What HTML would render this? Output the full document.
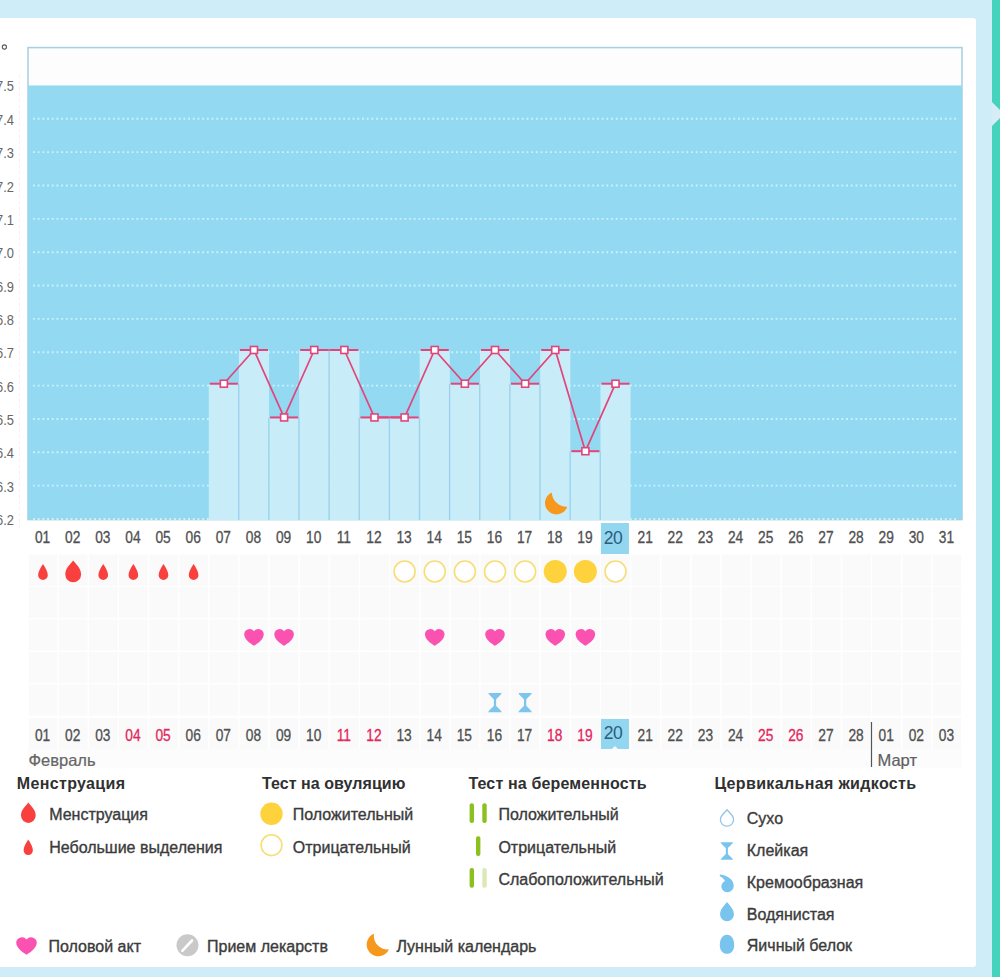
<!DOCTYPE html>
<html><head><meta charset="utf-8">
<style>
html,body{margin:0;padding:0;width:1000px;height:980px;overflow:hidden;background:#fff;}
#bg{position:absolute;left:0;top:0;width:1000px;height:977px;background:#cfedf9;}
#card{position:absolute;left:-10px;top:18px;width:986px;height:949px;background:#fff;border-radius:3px;}
#teal{position:absolute;left:992px;top:0;width:8px;height:977px;background:#45d3be;}
#notch{position:absolute;left:992px;top:101.5px;width:0;height:0;border-top:12px solid transparent;border-bottom:12px solid transparent;border-left:12px solid #d8ecf8;}
svg{position:absolute;left:0;top:0;}
text{font-family:"Liberation Sans", sans-serif;}
</style></head>
<body>
<div id="bg"></div><div id="card"></div><div id="teal"></div><div id="notch"></div>
<svg width="1000" height="980" viewBox="0 0 1000 980">
<rect x="28.0" y="47.6" width="934.0" height="472.0" fill="#fdfdfd" stroke="#a6cfe0" stroke-width="1.5"/>
<line x1="19.5" y1="75" x2="19.5" y2="530" stroke="#fcedf1" stroke-width="1" stroke-dasharray="3 3"/>
<rect x="28.0" y="85.45" width="934.0" height="433.55" fill="#93d9f2"/>
<line x1="33.0" y1="118.80" x2="957.0" y2="118.80" stroke="#c6f3fc" stroke-width="1.9" stroke-dasharray="1.9 2.8"/>
<line x1="33.0" y1="152.15" x2="957.0" y2="152.15" stroke="#c6f3fc" stroke-width="1.9" stroke-dasharray="1.9 2.8"/>
<line x1="33.0" y1="185.50" x2="957.0" y2="185.50" stroke="#c6f3fc" stroke-width="1.9" stroke-dasharray="1.9 2.8"/>
<line x1="33.0" y1="218.85" x2="957.0" y2="218.85" stroke="#c6f3fc" stroke-width="1.9" stroke-dasharray="1.9 2.8"/>
<line x1="33.0" y1="252.20" x2="957.0" y2="252.20" stroke="#c6f3fc" stroke-width="1.9" stroke-dasharray="1.9 2.8"/>
<line x1="33.0" y1="285.55" x2="957.0" y2="285.55" stroke="#c6f3fc" stroke-width="1.9" stroke-dasharray="1.9 2.8"/>
<line x1="33.0" y1="318.90" x2="957.0" y2="318.90" stroke="#c6f3fc" stroke-width="1.9" stroke-dasharray="1.9 2.8"/>
<line x1="33.0" y1="352.25" x2="957.0" y2="352.25" stroke="#c6f3fc" stroke-width="1.9" stroke-dasharray="1.9 2.8"/>
<line x1="33.0" y1="385.60" x2="957.0" y2="385.60" stroke="#c6f3fc" stroke-width="1.9" stroke-dasharray="1.9 2.8"/>
<line x1="33.0" y1="418.95" x2="957.0" y2="418.95" stroke="#c6f3fc" stroke-width="1.9" stroke-dasharray="1.9 2.8"/>
<line x1="33.0" y1="452.30" x2="957.0" y2="452.30" stroke="#c6f3fc" stroke-width="1.9" stroke-dasharray="1.9 2.8"/>
<line x1="33.0" y1="485.65" x2="957.0" y2="485.65" stroke="#c6f3fc" stroke-width="1.9" stroke-dasharray="1.9 2.8"/>
<line x1="33.0" y1="519.00" x2="957.0" y2="519.00" stroke="#c6f3fc" stroke-width="1.9" stroke-dasharray="1.9 2.8"/>
<rect x="208.77" y="383.72" width="30.13" height="136.28" fill="#c9ecf9"/>
<rect x="238.90" y="349.98" width="30.13" height="170.02" fill="#c9ecf9"/>
<rect x="269.03" y="417.46" width="30.13" height="102.54" fill="#c9ecf9"/>
<rect x="299.16" y="349.98" width="30.13" height="170.02" fill="#c9ecf9"/>
<rect x="329.29" y="349.98" width="30.13" height="170.02" fill="#c9ecf9"/>
<rect x="359.42" y="417.46" width="30.13" height="102.54" fill="#c9ecf9"/>
<rect x="389.55" y="417.46" width="30.13" height="102.54" fill="#c9ecf9"/>
<rect x="419.68" y="349.98" width="30.13" height="170.02" fill="#c9ecf9"/>
<rect x="449.81" y="383.72" width="30.13" height="136.28" fill="#c9ecf9"/>
<rect x="479.94" y="349.98" width="30.13" height="170.02" fill="#c9ecf9"/>
<rect x="510.06" y="383.72" width="30.13" height="136.28" fill="#c9ecf9"/>
<rect x="540.19" y="349.98" width="30.13" height="170.02" fill="#c9ecf9"/>
<rect x="570.32" y="451.20" width="30.13" height="68.80" fill="#c9ecf9"/>
<rect x="600.45" y="383.72" width="30.13" height="136.28" fill="#c9ecf9"/>
<line x1="238.70" y1="383.72" x2="238.70" y2="520.0" stroke="#9dd3ea" stroke-width="1.4"/>
<line x1="268.83" y1="417.46" x2="268.83" y2="520.0" stroke="#9dd3ea" stroke-width="1.4"/>
<line x1="298.96" y1="417.46" x2="298.96" y2="520.0" stroke="#9dd3ea" stroke-width="1.4"/>
<line x1="329.09" y1="349.98" x2="329.09" y2="520.0" stroke="#9dd3ea" stroke-width="1.4"/>
<line x1="359.22" y1="417.46" x2="359.22" y2="520.0" stroke="#9dd3ea" stroke-width="1.4"/>
<line x1="389.35" y1="417.46" x2="389.35" y2="520.0" stroke="#9dd3ea" stroke-width="1.4"/>
<line x1="419.48" y1="417.46" x2="419.48" y2="520.0" stroke="#9dd3ea" stroke-width="1.4"/>
<line x1="449.61" y1="383.72" x2="449.61" y2="520.0" stroke="#9dd3ea" stroke-width="1.4"/>
<line x1="479.74" y1="383.72" x2="479.74" y2="520.0" stroke="#9dd3ea" stroke-width="1.4"/>
<line x1="509.86" y1="383.72" x2="509.86" y2="520.0" stroke="#9dd3ea" stroke-width="1.4"/>
<line x1="539.99" y1="383.72" x2="539.99" y2="520.0" stroke="#9dd3ea" stroke-width="1.4"/>
<line x1="570.12" y1="451.20" x2="570.12" y2="520.0" stroke="#9dd3ea" stroke-width="1.4"/>
<line x1="600.25" y1="451.20" x2="600.25" y2="520.0" stroke="#9dd3ea" stroke-width="1.4"/>
<line x1="209.77" y1="383.72" x2="237.90" y2="383.72" stroke="#e2457a" stroke-width="2"/>
<line x1="239.90" y1="349.98" x2="268.03" y2="349.98" stroke="#e2457a" stroke-width="2"/>
<line x1="270.03" y1="417.46" x2="298.16" y2="417.46" stroke="#e2457a" stroke-width="2"/>
<line x1="300.16" y1="349.98" x2="328.29" y2="349.98" stroke="#e2457a" stroke-width="2"/>
<line x1="330.29" y1="349.98" x2="358.42" y2="349.98" stroke="#e2457a" stroke-width="2"/>
<line x1="360.42" y1="417.46" x2="388.55" y2="417.46" stroke="#e2457a" stroke-width="2"/>
<line x1="390.55" y1="417.46" x2="418.68" y2="417.46" stroke="#e2457a" stroke-width="2"/>
<line x1="420.68" y1="349.98" x2="448.81" y2="349.98" stroke="#e2457a" stroke-width="2"/>
<line x1="450.81" y1="383.72" x2="478.94" y2="383.72" stroke="#e2457a" stroke-width="2"/>
<line x1="480.94" y1="349.98" x2="509.06" y2="349.98" stroke="#e2457a" stroke-width="2"/>
<line x1="511.06" y1="383.72" x2="539.19" y2="383.72" stroke="#e2457a" stroke-width="2"/>
<line x1="541.19" y1="349.98" x2="569.32" y2="349.98" stroke="#e2457a" stroke-width="2"/>
<line x1="571.32" y1="451.20" x2="599.45" y2="451.20" stroke="#e2457a" stroke-width="2"/>
<line x1="601.45" y1="383.72" x2="629.58" y2="383.72" stroke="#e2457a" stroke-width="2"/>
<polyline points="223.84,383.72 253.97,349.98 284.10,417.46 314.23,349.98 344.35,349.98 374.48,417.46 404.61,417.46 434.74,349.98 464.87,383.72 495.00,349.98 525.13,383.72 555.26,349.98 585.39,451.20 615.52,383.72" fill="none" stroke="#e2457a" stroke-width="1.7"/>
<rect x="220.34" y="380.22" width="7" height="7" fill="#fff" stroke="#e2457a" stroke-width="1.6"/>
<rect x="250.47" y="346.48" width="7" height="7" fill="#fff" stroke="#e2457a" stroke-width="1.6"/>
<rect x="280.60" y="413.96" width="7" height="7" fill="#fff" stroke="#e2457a" stroke-width="1.6"/>
<rect x="310.73" y="346.48" width="7" height="7" fill="#fff" stroke="#e2457a" stroke-width="1.6"/>
<rect x="340.85" y="346.48" width="7" height="7" fill="#fff" stroke="#e2457a" stroke-width="1.6"/>
<rect x="370.98" y="413.96" width="7" height="7" fill="#fff" stroke="#e2457a" stroke-width="1.6"/>
<rect x="401.11" y="413.96" width="7" height="7" fill="#fff" stroke="#e2457a" stroke-width="1.6"/>
<rect x="431.24" y="346.48" width="7" height="7" fill="#fff" stroke="#e2457a" stroke-width="1.6"/>
<rect x="461.37" y="380.22" width="7" height="7" fill="#fff" stroke="#e2457a" stroke-width="1.6"/>
<rect x="491.50" y="346.48" width="7" height="7" fill="#fff" stroke="#e2457a" stroke-width="1.6"/>
<rect x="521.63" y="380.22" width="7" height="7" fill="#fff" stroke="#e2457a" stroke-width="1.6"/>
<rect x="551.76" y="346.48" width="7" height="7" fill="#fff" stroke="#e2457a" stroke-width="1.6"/>
<rect x="581.89" y="447.70" width="7" height="7" fill="#fff" stroke="#e2457a" stroke-width="1.6"/>
<rect x="612.02" y="380.22" width="7" height="7" fill="#fff" stroke="#e2457a" stroke-width="1.6"/>
<path d="M551.76,492.42 A11.50,11.50 0 1 0 567.30,506.84 A15.05,15.05 0 0 1 551.76,492.42 Z" fill="#f5981c"/>
<rect x="28.70" y="554.5" width="28.73" height="31.5" fill="#fafafa"/>
<rect x="58.83" y="554.5" width="28.73" height="31.5" fill="#fafafa"/>
<rect x="88.96" y="554.5" width="28.73" height="31.5" fill="#fafafa"/>
<rect x="119.09" y="554.5" width="28.73" height="31.5" fill="#fafafa"/>
<rect x="149.22" y="554.5" width="28.73" height="31.5" fill="#fafafa"/>
<rect x="179.35" y="554.5" width="28.73" height="31.5" fill="#fafafa"/>
<rect x="209.47" y="554.5" width="28.73" height="31.5" fill="#fafafa"/>
<rect x="239.60" y="554.5" width="28.73" height="31.5" fill="#fafafa"/>
<rect x="269.73" y="554.5" width="28.73" height="31.5" fill="#fafafa"/>
<rect x="299.86" y="554.5" width="28.73" height="31.5" fill="#fafafa"/>
<rect x="329.99" y="554.5" width="28.73" height="31.5" fill="#fafafa"/>
<rect x="360.12" y="554.5" width="28.73" height="31.5" fill="#fafafa"/>
<rect x="390.25" y="554.5" width="28.73" height="31.5" fill="#fafafa"/>
<rect x="420.38" y="554.5" width="28.73" height="31.5" fill="#fafafa"/>
<rect x="450.51" y="554.5" width="28.73" height="31.5" fill="#fafafa"/>
<rect x="480.64" y="554.5" width="28.73" height="31.5" fill="#fafafa"/>
<rect x="510.76" y="554.5" width="28.73" height="31.5" fill="#fafafa"/>
<rect x="540.89" y="554.5" width="28.73" height="31.5" fill="#fafafa"/>
<rect x="571.02" y="554.5" width="28.73" height="31.5" fill="#fafafa"/>
<rect x="601.15" y="554.5" width="28.73" height="31.5" fill="#fafafa"/>
<rect x="631.28" y="554.5" width="28.73" height="31.5" fill="#fafafa"/>
<rect x="661.41" y="554.5" width="28.73" height="31.5" fill="#fafafa"/>
<rect x="691.54" y="554.5" width="28.73" height="31.5" fill="#fafafa"/>
<rect x="721.67" y="554.5" width="28.73" height="31.5" fill="#fafafa"/>
<rect x="751.80" y="554.5" width="28.73" height="31.5" fill="#fafafa"/>
<rect x="781.93" y="554.5" width="28.73" height="31.5" fill="#fafafa"/>
<rect x="812.05" y="554.5" width="28.73" height="31.5" fill="#fafafa"/>
<rect x="842.18" y="554.5" width="28.73" height="31.5" fill="#fafafa"/>
<rect x="872.31" y="554.5" width="28.73" height="31.5" fill="#fafafa"/>
<rect x="902.44" y="554.5" width="28.73" height="31.5" fill="#fafafa"/>
<rect x="932.57" y="554.5" width="28.73" height="31.5" fill="#fafafa"/>
<rect x="28.70" y="587.0" width="28.73" height="31.0" fill="#fafafa"/>
<rect x="58.83" y="587.0" width="28.73" height="31.0" fill="#fafafa"/>
<rect x="88.96" y="587.0" width="28.73" height="31.0" fill="#fafafa"/>
<rect x="119.09" y="587.0" width="28.73" height="31.0" fill="#fafafa"/>
<rect x="149.22" y="587.0" width="28.73" height="31.0" fill="#fafafa"/>
<rect x="179.35" y="587.0" width="28.73" height="31.0" fill="#fafafa"/>
<rect x="209.47" y="587.0" width="28.73" height="31.0" fill="#fafafa"/>
<rect x="239.60" y="587.0" width="28.73" height="31.0" fill="#fafafa"/>
<rect x="269.73" y="587.0" width="28.73" height="31.0" fill="#fafafa"/>
<rect x="299.86" y="587.0" width="28.73" height="31.0" fill="#fafafa"/>
<rect x="329.99" y="587.0" width="28.73" height="31.0" fill="#fafafa"/>
<rect x="360.12" y="587.0" width="28.73" height="31.0" fill="#fafafa"/>
<rect x="390.25" y="587.0" width="28.73" height="31.0" fill="#fafafa"/>
<rect x="420.38" y="587.0" width="28.73" height="31.0" fill="#fafafa"/>
<rect x="450.51" y="587.0" width="28.73" height="31.0" fill="#fafafa"/>
<rect x="480.64" y="587.0" width="28.73" height="31.0" fill="#fafafa"/>
<rect x="510.76" y="587.0" width="28.73" height="31.0" fill="#fafafa"/>
<rect x="540.89" y="587.0" width="28.73" height="31.0" fill="#fafafa"/>
<rect x="571.02" y="587.0" width="28.73" height="31.0" fill="#fafafa"/>
<rect x="601.15" y="587.0" width="28.73" height="31.0" fill="#fafafa"/>
<rect x="631.28" y="587.0" width="28.73" height="31.0" fill="#fafafa"/>
<rect x="661.41" y="587.0" width="28.73" height="31.0" fill="#fafafa"/>
<rect x="691.54" y="587.0" width="28.73" height="31.0" fill="#fafafa"/>
<rect x="721.67" y="587.0" width="28.73" height="31.0" fill="#fafafa"/>
<rect x="751.80" y="587.0" width="28.73" height="31.0" fill="#fafafa"/>
<rect x="781.93" y="587.0" width="28.73" height="31.0" fill="#fafafa"/>
<rect x="812.05" y="587.0" width="28.73" height="31.0" fill="#fafafa"/>
<rect x="842.18" y="587.0" width="28.73" height="31.0" fill="#fafafa"/>
<rect x="872.31" y="587.0" width="28.73" height="31.0" fill="#fafafa"/>
<rect x="902.44" y="587.0" width="28.73" height="31.0" fill="#fafafa"/>
<rect x="932.57" y="587.0" width="28.73" height="31.0" fill="#fafafa"/>
<rect x="28.70" y="619.5" width="28.73" height="31" fill="#fafafa"/>
<rect x="58.83" y="619.5" width="28.73" height="31" fill="#fafafa"/>
<rect x="88.96" y="619.5" width="28.73" height="31" fill="#fafafa"/>
<rect x="119.09" y="619.5" width="28.73" height="31" fill="#fafafa"/>
<rect x="149.22" y="619.5" width="28.73" height="31" fill="#fafafa"/>
<rect x="179.35" y="619.5" width="28.73" height="31" fill="#fafafa"/>
<rect x="209.47" y="619.5" width="28.73" height="31" fill="#fafafa"/>
<rect x="239.60" y="619.5" width="28.73" height="31" fill="#fafafa"/>
<rect x="269.73" y="619.5" width="28.73" height="31" fill="#fafafa"/>
<rect x="299.86" y="619.5" width="28.73" height="31" fill="#fafafa"/>
<rect x="329.99" y="619.5" width="28.73" height="31" fill="#fafafa"/>
<rect x="360.12" y="619.5" width="28.73" height="31" fill="#fafafa"/>
<rect x="390.25" y="619.5" width="28.73" height="31" fill="#fafafa"/>
<rect x="420.38" y="619.5" width="28.73" height="31" fill="#fafafa"/>
<rect x="450.51" y="619.5" width="28.73" height="31" fill="#fafafa"/>
<rect x="480.64" y="619.5" width="28.73" height="31" fill="#fafafa"/>
<rect x="510.76" y="619.5" width="28.73" height="31" fill="#fafafa"/>
<rect x="540.89" y="619.5" width="28.73" height="31" fill="#fafafa"/>
<rect x="571.02" y="619.5" width="28.73" height="31" fill="#fafafa"/>
<rect x="601.15" y="619.5" width="28.73" height="31" fill="#fafafa"/>
<rect x="631.28" y="619.5" width="28.73" height="31" fill="#fafafa"/>
<rect x="661.41" y="619.5" width="28.73" height="31" fill="#fafafa"/>
<rect x="691.54" y="619.5" width="28.73" height="31" fill="#fafafa"/>
<rect x="721.67" y="619.5" width="28.73" height="31" fill="#fafafa"/>
<rect x="751.80" y="619.5" width="28.73" height="31" fill="#fafafa"/>
<rect x="781.93" y="619.5" width="28.73" height="31" fill="#fafafa"/>
<rect x="812.05" y="619.5" width="28.73" height="31" fill="#fafafa"/>
<rect x="842.18" y="619.5" width="28.73" height="31" fill="#fafafa"/>
<rect x="872.31" y="619.5" width="28.73" height="31" fill="#fafafa"/>
<rect x="902.44" y="619.5" width="28.73" height="31" fill="#fafafa"/>
<rect x="932.57" y="619.5" width="28.73" height="31" fill="#fafafa"/>
<rect x="28.70" y="652.0" width="28.73" height="31.0" fill="#fafafa"/>
<rect x="58.83" y="652.0" width="28.73" height="31.0" fill="#fafafa"/>
<rect x="88.96" y="652.0" width="28.73" height="31.0" fill="#fafafa"/>
<rect x="119.09" y="652.0" width="28.73" height="31.0" fill="#fafafa"/>
<rect x="149.22" y="652.0" width="28.73" height="31.0" fill="#fafafa"/>
<rect x="179.35" y="652.0" width="28.73" height="31.0" fill="#fafafa"/>
<rect x="209.47" y="652.0" width="28.73" height="31.0" fill="#fafafa"/>
<rect x="239.60" y="652.0" width="28.73" height="31.0" fill="#fafafa"/>
<rect x="269.73" y="652.0" width="28.73" height="31.0" fill="#fafafa"/>
<rect x="299.86" y="652.0" width="28.73" height="31.0" fill="#fafafa"/>
<rect x="329.99" y="652.0" width="28.73" height="31.0" fill="#fafafa"/>
<rect x="360.12" y="652.0" width="28.73" height="31.0" fill="#fafafa"/>
<rect x="390.25" y="652.0" width="28.73" height="31.0" fill="#fafafa"/>
<rect x="420.38" y="652.0" width="28.73" height="31.0" fill="#fafafa"/>
<rect x="450.51" y="652.0" width="28.73" height="31.0" fill="#fafafa"/>
<rect x="480.64" y="652.0" width="28.73" height="31.0" fill="#fafafa"/>
<rect x="510.76" y="652.0" width="28.73" height="31.0" fill="#fafafa"/>
<rect x="540.89" y="652.0" width="28.73" height="31.0" fill="#fafafa"/>
<rect x="571.02" y="652.0" width="28.73" height="31.0" fill="#fafafa"/>
<rect x="601.15" y="652.0" width="28.73" height="31.0" fill="#fafafa"/>
<rect x="631.28" y="652.0" width="28.73" height="31.0" fill="#fafafa"/>
<rect x="661.41" y="652.0" width="28.73" height="31.0" fill="#fafafa"/>
<rect x="691.54" y="652.0" width="28.73" height="31.0" fill="#fafafa"/>
<rect x="721.67" y="652.0" width="28.73" height="31.0" fill="#fafafa"/>
<rect x="751.80" y="652.0" width="28.73" height="31.0" fill="#fafafa"/>
<rect x="781.93" y="652.0" width="28.73" height="31.0" fill="#fafafa"/>
<rect x="812.05" y="652.0" width="28.73" height="31.0" fill="#fafafa"/>
<rect x="842.18" y="652.0" width="28.73" height="31.0" fill="#fafafa"/>
<rect x="872.31" y="652.0" width="28.73" height="31.0" fill="#fafafa"/>
<rect x="902.44" y="652.0" width="28.73" height="31.0" fill="#fafafa"/>
<rect x="932.57" y="652.0" width="28.73" height="31.0" fill="#fafafa"/>
<rect x="28.70" y="684.5" width="28.73" height="31" fill="#fafafa"/>
<rect x="58.83" y="684.5" width="28.73" height="31" fill="#fafafa"/>
<rect x="88.96" y="684.5" width="28.73" height="31" fill="#fafafa"/>
<rect x="119.09" y="684.5" width="28.73" height="31" fill="#fafafa"/>
<rect x="149.22" y="684.5" width="28.73" height="31" fill="#fafafa"/>
<rect x="179.35" y="684.5" width="28.73" height="31" fill="#fafafa"/>
<rect x="209.47" y="684.5" width="28.73" height="31" fill="#fafafa"/>
<rect x="239.60" y="684.5" width="28.73" height="31" fill="#fafafa"/>
<rect x="269.73" y="684.5" width="28.73" height="31" fill="#fafafa"/>
<rect x="299.86" y="684.5" width="28.73" height="31" fill="#fafafa"/>
<rect x="329.99" y="684.5" width="28.73" height="31" fill="#fafafa"/>
<rect x="360.12" y="684.5" width="28.73" height="31" fill="#fafafa"/>
<rect x="390.25" y="684.5" width="28.73" height="31" fill="#fafafa"/>
<rect x="420.38" y="684.5" width="28.73" height="31" fill="#fafafa"/>
<rect x="450.51" y="684.5" width="28.73" height="31" fill="#fafafa"/>
<rect x="480.64" y="684.5" width="28.73" height="31" fill="#fafafa"/>
<rect x="510.76" y="684.5" width="28.73" height="31" fill="#fafafa"/>
<rect x="540.89" y="684.5" width="28.73" height="31" fill="#fafafa"/>
<rect x="571.02" y="684.5" width="28.73" height="31" fill="#fafafa"/>
<rect x="601.15" y="684.5" width="28.73" height="31" fill="#fafafa"/>
<rect x="631.28" y="684.5" width="28.73" height="31" fill="#fafafa"/>
<rect x="661.41" y="684.5" width="28.73" height="31" fill="#fafafa"/>
<rect x="691.54" y="684.5" width="28.73" height="31" fill="#fafafa"/>
<rect x="721.67" y="684.5" width="28.73" height="31" fill="#fafafa"/>
<rect x="751.80" y="684.5" width="28.73" height="31" fill="#fafafa"/>
<rect x="781.93" y="684.5" width="28.73" height="31" fill="#fafafa"/>
<rect x="812.05" y="684.5" width="28.73" height="31" fill="#fafafa"/>
<rect x="842.18" y="684.5" width="28.73" height="31" fill="#fafafa"/>
<rect x="872.31" y="684.5" width="28.73" height="31" fill="#fafafa"/>
<rect x="902.44" y="684.5" width="28.73" height="31" fill="#fafafa"/>
<rect x="932.57" y="684.5" width="28.73" height="31" fill="#fafafa"/>
<rect x="28.70" y="718.0" width="28.73" height="31.0" fill="#fafafa"/>
<rect x="58.83" y="718.0" width="28.73" height="31.0" fill="#fafafa"/>
<rect x="88.96" y="718.0" width="28.73" height="31.0" fill="#fafafa"/>
<rect x="119.09" y="718.0" width="28.73" height="31.0" fill="#fafafa"/>
<rect x="149.22" y="718.0" width="28.73" height="31.0" fill="#fafafa"/>
<rect x="179.35" y="718.0" width="28.73" height="31.0" fill="#fafafa"/>
<rect x="209.47" y="718.0" width="28.73" height="31.0" fill="#fafafa"/>
<rect x="239.60" y="718.0" width="28.73" height="31.0" fill="#fafafa"/>
<rect x="269.73" y="718.0" width="28.73" height="31.0" fill="#fafafa"/>
<rect x="299.86" y="718.0" width="28.73" height="31.0" fill="#fafafa"/>
<rect x="329.99" y="718.0" width="28.73" height="31.0" fill="#fafafa"/>
<rect x="360.12" y="718.0" width="28.73" height="31.0" fill="#fafafa"/>
<rect x="390.25" y="718.0" width="28.73" height="31.0" fill="#fafafa"/>
<rect x="420.38" y="718.0" width="28.73" height="31.0" fill="#fafafa"/>
<rect x="450.51" y="718.0" width="28.73" height="31.0" fill="#fafafa"/>
<rect x="480.64" y="718.0" width="28.73" height="31.0" fill="#fafafa"/>
<rect x="510.76" y="718.0" width="28.73" height="31.0" fill="#fafafa"/>
<rect x="540.89" y="718.0" width="28.73" height="31.0" fill="#fafafa"/>
<rect x="571.02" y="718.0" width="28.73" height="31.0" fill="#fafafa"/>
<rect x="601.15" y="718.0" width="28.73" height="31.0" fill="#fafafa"/>
<rect x="631.28" y="718.0" width="28.73" height="31.0" fill="#fafafa"/>
<rect x="661.41" y="718.0" width="28.73" height="31.0" fill="#fafafa"/>
<rect x="691.54" y="718.0" width="28.73" height="31.0" fill="#fafafa"/>
<rect x="721.67" y="718.0" width="28.73" height="31.0" fill="#fafafa"/>
<rect x="751.80" y="718.0" width="28.73" height="31.0" fill="#fafafa"/>
<rect x="781.93" y="718.0" width="28.73" height="31.0" fill="#fafafa"/>
<rect x="812.05" y="718.0" width="28.73" height="31.0" fill="#fafafa"/>
<rect x="842.18" y="718.0" width="28.73" height="31.0" fill="#fafafa"/>
<rect x="872.31" y="718.0" width="28.73" height="31.0" fill="#fafafa"/>
<rect x="902.44" y="718.0" width="28.73" height="31.0" fill="#fafafa"/>
<rect x="932.57" y="718.0" width="28.73" height="31.0" fill="#fafafa"/>
<rect x="28.0" y="749" width="934.0" height="19" fill="#fcfcfc"/>
<rect x="600.95" y="523" width="28" height="31" fill="#93d6f0"/>
<path d="M600.95,719 h28 v30 h-11 l-3,-3 l-3,3 h-11 z" fill="#93d6f0"/>
<path d="M42.96,564.00 C45.39,567.90 47.81,571.51 47.81,575.15 A4.85,4.85 0 0 1 38.11,575.15 C38.11,571.51 40.54,567.90 42.96,564.00 Z" fill="#f9403f"/>
<path d="M103.22,564.00 C105.65,567.90 108.07,571.51 108.07,575.15 A4.85,4.85 0 0 1 98.37,575.15 C98.37,571.51 100.80,567.90 103.22,564.00 Z" fill="#f9403f"/>
<path d="M133.35,564.00 C135.78,567.90 138.20,571.51 138.20,575.15 A4.85,4.85 0 0 1 128.50,575.15 C128.50,571.51 130.93,567.90 133.35,564.00 Z" fill="#f9403f"/>
<path d="M163.48,564.00 C165.91,567.90 168.33,571.51 168.33,575.15 A4.85,4.85 0 0 1 158.63,575.15 C158.63,571.51 161.06,567.90 163.48,564.00 Z" fill="#f9403f"/>
<path d="M193.61,564.00 C196.03,567.90 198.46,571.51 198.46,575.15 A4.85,4.85 0 0 1 188.76,575.15 C188.76,571.51 191.18,567.90 193.61,564.00 Z" fill="#f9403f"/>
<path d="M73.19,560.40 C77.14,565.30 81.09,568.48 81.09,574.40 A7.90,7.90 0 0 1 65.29,574.40 C65.29,568.48 69.24,565.30 73.19,560.40 Z" fill="#f9403f"/>
<circle cx="404.61" cy="571.5" r="10.5" fill="#fff" stroke="#f7de78" stroke-width="1.6"/>
<circle cx="434.74" cy="571.5" r="10.5" fill="#fff" stroke="#f7de78" stroke-width="1.6"/>
<circle cx="464.87" cy="571.5" r="10.5" fill="#fff" stroke="#f7de78" stroke-width="1.6"/>
<circle cx="495.00" cy="571.5" r="10.5" fill="#fff" stroke="#f7de78" stroke-width="1.6"/>
<circle cx="525.13" cy="571.5" r="10.5" fill="#fff" stroke="#f7de78" stroke-width="1.6"/>
<circle cx="615.52" cy="571.5" r="10.5" fill="#fff" stroke="#f7de78" stroke-width="1.6"/>
<circle cx="555.26" cy="571.5" r="11.5" fill="#fdd23c"/>
<circle cx="585.39" cy="571.5" r="11.5" fill="#fdd23c"/>
<path transform="translate(243.97,628.00) scale(1.000,1.000)" d="M10,17.7 C6.8,15.6 0.2,11.6 0.2,5.9 A5.5,5.5 0 0 1 10,3.3 A5.5,5.5 0 0 1 19.8,5.9 C19.8,11.6 13.2,15.6 10,17.7 Z" fill="#fb52b2"/>
<path transform="translate(274.10,628.00) scale(1.000,1.000)" d="M10,17.7 C6.8,15.6 0.2,11.6 0.2,5.9 A5.5,5.5 0 0 1 10,3.3 A5.5,5.5 0 0 1 19.8,5.9 C19.8,11.6 13.2,15.6 10,17.7 Z" fill="#fb52b2"/>
<path transform="translate(424.74,628.00) scale(1.000,1.000)" d="M10,17.7 C6.8,15.6 0.2,11.6 0.2,5.9 A5.5,5.5 0 0 1 10,3.3 A5.5,5.5 0 0 1 19.8,5.9 C19.8,11.6 13.2,15.6 10,17.7 Z" fill="#fb52b2"/>
<path transform="translate(485.00,628.00) scale(1.000,1.000)" d="M10,17.7 C6.8,15.6 0.2,11.6 0.2,5.9 A5.5,5.5 0 0 1 10,3.3 A5.5,5.5 0 0 1 19.8,5.9 C19.8,11.6 13.2,15.6 10,17.7 Z" fill="#fb52b2"/>
<path transform="translate(545.26,628.00) scale(1.000,1.000)" d="M10,17.7 C6.8,15.6 0.2,11.6 0.2,5.9 A5.5,5.5 0 0 1 10,3.3 A5.5,5.5 0 0 1 19.8,5.9 C19.8,11.6 13.2,15.6 10,17.7 Z" fill="#fb52b2"/>
<path transform="translate(575.39,628.00) scale(1.000,1.000)" d="M10,17.7 C6.8,15.6 0.2,11.6 0.2,5.9 A5.5,5.5 0 0 1 10,3.3 A5.5,5.5 0 0 1 19.8,5.9 C19.8,11.6 13.2,15.6 10,17.7 Z" fill="#fb52b2"/>
<path transform="translate(488.30,693.00) scale(1.072,1.097)" d="M0,0 H12.5 C12.4,1.4 9.2,3.6 7.3,5.9 V11.7 C9.2,14 12.4,16.2 12.5,17.6 H0 C0.1,16.2 3.3,14 5.2,11.7 V5.9 C3.3,3.6 0.1,1.4 0,0 Z" fill="#7ec5ee"/>
<path transform="translate(518.43,693.00) scale(1.072,1.097)" d="M0,0 H12.5 C12.4,1.4 9.2,3.6 7.3,5.9 V11.7 C9.2,14 12.4,16.2 12.5,17.6 H0 C0.1,16.2 3.3,14 5.2,11.7 V5.9 C3.3,3.6 0.1,1.4 0,0 Z" fill="#7ec5ee"/>
<line x1="871.5" y1="722" x2="871.5" y2="767" stroke="#555" stroke-width="1.2"/>
<path d="M28.35,802.50 C32.02,807.07 35.70,810.04 35.70,815.55 A7.35,7.35 0 0 1 21.00,815.55 C21.00,810.04 24.68,807.07 28.35,802.50 Z" fill="#f9403f"/>
<path d="M28.25,839.60 C30.57,843.36 32.90,846.86 32.90,850.35 A4.65,4.65 0 0 1 23.60,850.35 C23.60,846.86 25.93,843.36 28.25,839.60 Z" fill="#f9403f"/>
<circle cx="271.5" cy="813.8" r="11.2" fill="#fdd23c"/>
<circle cx="271.5" cy="845.2" r="10.4" fill="#fff" stroke="#f7de78" stroke-width="1.6"/>
<rect x="469.6" y="803.2" width="4.4" height="19.7" rx="2" fill="#8bc11e"/>
<rect x="482.3" y="803.2" width="4.4" height="19.7" rx="2" fill="#8bc11e"/>
<rect x="476" y="836.3" width="4.4" height="19.7" rx="2" fill="#8bc11e"/>
<rect x="469.6" y="868" width="4.4" height="19.7" rx="2" fill="#8bc11e"/>
<rect x="482.3" y="868" width="4.4" height="19.7" rx="2" fill="#dce8b6"/>
<path d="M727,809.7 L731.92,815.2 A6.6,6.6 0 1 1 722.08,815.2 Z" fill="#fff" stroke="#90c4e8" stroke-width="1.3" stroke-linejoin="round"/>
<path transform="translate(720.60,842.20) scale(1.000,1.000)" d="M0,0 H12.5 C12.4,1.4 9.2,3.6 7.3,5.9 V11.7 C9.2,14 12.4,16.2 12.5,17.6 H0 C0.1,16.2 3.3,14 5.2,11.7 V5.9 C3.3,3.6 0.1,1.4 0,0 Z" fill="#79c3ef"/>
<path d="M719.8,874.6 C725,874.6 733.7,878.6 733.7,885.6 A6.2,6.2 0 0 1 721.3,886.5 C721.4,884 722.9,882 725,880.9 C723.6,878.6 721.9,877 719.8,876.3 Z" fill="#79c3ef"/>
<path d="M727.00,902.00 C730.45,906.34 733.90,909.23 733.90,914.40 A6.90,6.90 0 0 1 720.10,914.40 C720.10,909.23 723.55,906.34 727.00,902.00 Z" fill="#79c3ef"/>
<path d="M727,934.8 C731.5,934.8 734.2,939.5 734.2,945 C734.2,950.5 731.2,953.8 727,953.8 C722.8,953.8 719.8,950.5 719.8,945 C719.8,939.5 722.5,934.8 727,934.8 Z" fill="#79c3ef"/>
<path transform="translate(16.00,936.00) scale(1.050,1.056)" d="M10,17.7 C6.8,15.6 0.2,11.6 0.2,5.9 A5.5,5.5 0 0 1 10,3.3 A5.5,5.5 0 0 1 19.8,5.9 C19.8,11.6 13.2,15.6 10,17.7 Z" fill="#fb52b2"/>
<circle cx="187.5" cy="945.3" r="11" fill="#c9c9c9"/>
<line x1="182.3" y1="950.8" x2="192" y2="940.5" stroke="#fff" stroke-width="2.6" stroke-linecap="round"/>
<path d="M373.99,933.68 A11.72,11.72 0 1 0 389.05,949.35 A13.63,13.63 0 0 1 373.99,933.68 Z" fill="#f5981c"/>
<text transform="translate(14,91.45) scale(0.86,1)" font-size="15" fill="#666" text-anchor="end">37.5</text>
<text transform="translate(14,124.80) scale(0.86,1)" font-size="15" fill="#666" text-anchor="end">37.4</text>
<text transform="translate(14,158.15) scale(0.86,1)" font-size="15" fill="#666" text-anchor="end">37.3</text>
<text transform="translate(14,191.50) scale(0.86,1)" font-size="15" fill="#666" text-anchor="end">37.2</text>
<text transform="translate(14,224.85) scale(0.86,1)" font-size="15" fill="#666" text-anchor="end">37.1</text>
<text transform="translate(14,258.20) scale(0.86,1)" font-size="15" fill="#666" text-anchor="end">37.0</text>
<text transform="translate(14,291.55) scale(0.86,1)" font-size="15" fill="#666" text-anchor="end">36.9</text>
<text transform="translate(14,324.90) scale(0.86,1)" font-size="15" fill="#666" text-anchor="end">36.8</text>
<text transform="translate(14,358.25) scale(0.86,1)" font-size="15" fill="#666" text-anchor="end">36.7</text>
<text transform="translate(14,391.60) scale(0.86,1)" font-size="15" fill="#666" text-anchor="end">36.6</text>
<text transform="translate(14,424.95) scale(0.86,1)" font-size="15" fill="#666" text-anchor="end">36.5</text>
<text transform="translate(14,458.30) scale(0.86,1)" font-size="15" fill="#666" text-anchor="end">36.4</text>
<text transform="translate(14,491.65) scale(0.86,1)" font-size="15" fill="#666" text-anchor="end">36.3</text>
<text transform="translate(14,525.00) scale(0.86,1)" font-size="15" fill="#666" text-anchor="end">36.2</text>
<circle cx="4.4" cy="47" r="2.1" fill="none" stroke="#5a5a5a" stroke-width="1.1"/>
<text transform="translate(42.56,543.00) scale(0.86,1)" font-size="16" fill="#505050" font-weight="400" text-anchor="middle" letter-spacing="0" stroke="#505050" stroke-width="0.3">01</text>
<text transform="translate(72.69,543.00) scale(0.86,1)" font-size="16" fill="#505050" font-weight="400" text-anchor="middle" letter-spacing="0" stroke="#505050" stroke-width="0.3">02</text>
<text transform="translate(102.82,543.00) scale(0.86,1)" font-size="16" fill="#505050" font-weight="400" text-anchor="middle" letter-spacing="0" stroke="#505050" stroke-width="0.3">03</text>
<text transform="translate(132.95,543.00) scale(0.86,1)" font-size="16" fill="#505050" font-weight="400" text-anchor="middle" letter-spacing="0" stroke="#505050" stroke-width="0.3">04</text>
<text transform="translate(163.08,543.00) scale(0.86,1)" font-size="16" fill="#505050" font-weight="400" text-anchor="middle" letter-spacing="0" stroke="#505050" stroke-width="0.3">05</text>
<text transform="translate(193.21,543.00) scale(0.86,1)" font-size="16" fill="#505050" font-weight="400" text-anchor="middle" letter-spacing="0" stroke="#505050" stroke-width="0.3">06</text>
<text transform="translate(223.34,543.00) scale(0.86,1)" font-size="16" fill="#505050" font-weight="400" text-anchor="middle" letter-spacing="0" stroke="#505050" stroke-width="0.3">07</text>
<text transform="translate(253.47,543.00) scale(0.86,1)" font-size="16" fill="#505050" font-weight="400" text-anchor="middle" letter-spacing="0" stroke="#505050" stroke-width="0.3">08</text>
<text transform="translate(283.60,543.00) scale(0.86,1)" font-size="16" fill="#505050" font-weight="400" text-anchor="middle" letter-spacing="0" stroke="#505050" stroke-width="0.3">09</text>
<text transform="translate(313.73,543.00) scale(0.86,1)" font-size="16" fill="#505050" font-weight="400" text-anchor="middle" letter-spacing="0" stroke="#505050" stroke-width="0.3">10</text>
<text transform="translate(343.85,543.00) scale(0.86,1)" font-size="16" fill="#505050" font-weight="400" text-anchor="middle" letter-spacing="0" stroke="#505050" stroke-width="0.3">11</text>
<text transform="translate(373.98,543.00) scale(0.86,1)" font-size="16" fill="#505050" font-weight="400" text-anchor="middle" letter-spacing="0" stroke="#505050" stroke-width="0.3">12</text>
<text transform="translate(404.11,543.00) scale(0.86,1)" font-size="16" fill="#505050" font-weight="400" text-anchor="middle" letter-spacing="0" stroke="#505050" stroke-width="0.3">13</text>
<text transform="translate(434.24,543.00) scale(0.86,1)" font-size="16" fill="#505050" font-weight="400" text-anchor="middle" letter-spacing="0" stroke="#505050" stroke-width="0.3">14</text>
<text transform="translate(464.37,543.00) scale(0.86,1)" font-size="16" fill="#505050" font-weight="400" text-anchor="middle" letter-spacing="0" stroke="#505050" stroke-width="0.3">15</text>
<text transform="translate(494.50,543.00) scale(0.86,1)" font-size="16" fill="#505050" font-weight="400" text-anchor="middle" letter-spacing="0" stroke="#505050" stroke-width="0.3">16</text>
<text transform="translate(524.63,543.00) scale(0.86,1)" font-size="16" fill="#505050" font-weight="400" text-anchor="middle" letter-spacing="0" stroke="#505050" stroke-width="0.3">17</text>
<text transform="translate(554.76,543.00) scale(0.86,1)" font-size="16" fill="#505050" font-weight="400" text-anchor="middle" letter-spacing="0" stroke="#505050" stroke-width="0.3">18</text>
<text transform="translate(584.89,543.00) scale(0.86,1)" font-size="16" fill="#505050" font-weight="400" text-anchor="middle" letter-spacing="0" stroke="#505050" stroke-width="0.3">19</text>
<text x="612.92" y="544.30" font-size="17.5" fill="#2b5d7c" font-weight="400" text-anchor="middle" letter-spacing="-0.5">20</text>
<text transform="translate(645.15,543.00) scale(0.86,1)" font-size="16" fill="#505050" font-weight="400" text-anchor="middle" letter-spacing="0" stroke="#505050" stroke-width="0.3">21</text>
<text transform="translate(675.27,543.00) scale(0.86,1)" font-size="16" fill="#505050" font-weight="400" text-anchor="middle" letter-spacing="0" stroke="#505050" stroke-width="0.3">22</text>
<text transform="translate(705.40,543.00) scale(0.86,1)" font-size="16" fill="#505050" font-weight="400" text-anchor="middle" letter-spacing="0" stroke="#505050" stroke-width="0.3">23</text>
<text transform="translate(735.53,543.00) scale(0.86,1)" font-size="16" fill="#505050" font-weight="400" text-anchor="middle" letter-spacing="0" stroke="#505050" stroke-width="0.3">24</text>
<text transform="translate(765.66,543.00) scale(0.86,1)" font-size="16" fill="#505050" font-weight="400" text-anchor="middle" letter-spacing="0" stroke="#505050" stroke-width="0.3">25</text>
<text transform="translate(795.79,543.00) scale(0.86,1)" font-size="16" fill="#505050" font-weight="400" text-anchor="middle" letter-spacing="0" stroke="#505050" stroke-width="0.3">26</text>
<text transform="translate(825.92,543.00) scale(0.86,1)" font-size="16" fill="#505050" font-weight="400" text-anchor="middle" letter-spacing="0" stroke="#505050" stroke-width="0.3">27</text>
<text transform="translate(856.05,543.00) scale(0.86,1)" font-size="16" fill="#505050" font-weight="400" text-anchor="middle" letter-spacing="0" stroke="#505050" stroke-width="0.3">28</text>
<text transform="translate(886.18,543.00) scale(0.86,1)" font-size="16" fill="#505050" font-weight="400" text-anchor="middle" letter-spacing="0" stroke="#505050" stroke-width="0.3">29</text>
<text transform="translate(916.31,543.00) scale(0.86,1)" font-size="16" fill="#505050" font-weight="400" text-anchor="middle" letter-spacing="0" stroke="#505050" stroke-width="0.3">30</text>
<text transform="translate(946.44,543.00) scale(0.86,1)" font-size="16" fill="#505050" font-weight="400" text-anchor="middle" letter-spacing="0" stroke="#505050" stroke-width="0.3">31</text>
<text transform="translate(42.56,741.00) scale(0.86,1)" font-size="16" fill="#505050" font-weight="400" text-anchor="middle" letter-spacing="0" stroke="#505050" stroke-width="0.3">01</text>
<text transform="translate(72.69,741.00) scale(0.86,1)" font-size="16" fill="#505050" font-weight="400" text-anchor="middle" letter-spacing="0" stroke="#505050" stroke-width="0.3">02</text>
<text transform="translate(102.82,741.00) scale(0.86,1)" font-size="16" fill="#505050" font-weight="400" text-anchor="middle" letter-spacing="0" stroke="#505050" stroke-width="0.3">03</text>
<text transform="translate(132.95,741.00) scale(0.86,1)" font-size="16" fill="#e2275c" font-weight="400" text-anchor="middle" letter-spacing="0" stroke="#e2275c" stroke-width="0.3">04</text>
<text transform="translate(163.08,741.00) scale(0.86,1)" font-size="16" fill="#e2275c" font-weight="400" text-anchor="middle" letter-spacing="0" stroke="#e2275c" stroke-width="0.3">05</text>
<text transform="translate(193.21,741.00) scale(0.86,1)" font-size="16" fill="#505050" font-weight="400" text-anchor="middle" letter-spacing="0" stroke="#505050" stroke-width="0.3">06</text>
<text transform="translate(223.34,741.00) scale(0.86,1)" font-size="16" fill="#505050" font-weight="400" text-anchor="middle" letter-spacing="0" stroke="#505050" stroke-width="0.3">07</text>
<text transform="translate(253.47,741.00) scale(0.86,1)" font-size="16" fill="#505050" font-weight="400" text-anchor="middle" letter-spacing="0" stroke="#505050" stroke-width="0.3">08</text>
<text transform="translate(283.60,741.00) scale(0.86,1)" font-size="16" fill="#505050" font-weight="400" text-anchor="middle" letter-spacing="0" stroke="#505050" stroke-width="0.3">09</text>
<text transform="translate(313.73,741.00) scale(0.86,1)" font-size="16" fill="#505050" font-weight="400" text-anchor="middle" letter-spacing="0" stroke="#505050" stroke-width="0.3">10</text>
<text transform="translate(343.85,741.00) scale(0.86,1)" font-size="16" fill="#e2275c" font-weight="400" text-anchor="middle" letter-spacing="0" stroke="#e2275c" stroke-width="0.3">11</text>
<text transform="translate(373.98,741.00) scale(0.86,1)" font-size="16" fill="#e2275c" font-weight="400" text-anchor="middle" letter-spacing="0" stroke="#e2275c" stroke-width="0.3">12</text>
<text transform="translate(404.11,741.00) scale(0.86,1)" font-size="16" fill="#505050" font-weight="400" text-anchor="middle" letter-spacing="0" stroke="#505050" stroke-width="0.3">13</text>
<text transform="translate(434.24,741.00) scale(0.86,1)" font-size="16" fill="#505050" font-weight="400" text-anchor="middle" letter-spacing="0" stroke="#505050" stroke-width="0.3">14</text>
<text transform="translate(464.37,741.00) scale(0.86,1)" font-size="16" fill="#505050" font-weight="400" text-anchor="middle" letter-spacing="0" stroke="#505050" stroke-width="0.3">15</text>
<text transform="translate(494.50,741.00) scale(0.86,1)" font-size="16" fill="#505050" font-weight="400" text-anchor="middle" letter-spacing="0" stroke="#505050" stroke-width="0.3">16</text>
<text transform="translate(524.63,741.00) scale(0.86,1)" font-size="16" fill="#505050" font-weight="400" text-anchor="middle" letter-spacing="0" stroke="#505050" stroke-width="0.3">17</text>
<text transform="translate(554.76,741.00) scale(0.86,1)" font-size="16" fill="#e2275c" font-weight="400" text-anchor="middle" letter-spacing="0" stroke="#e2275c" stroke-width="0.3">18</text>
<text transform="translate(584.89,741.00) scale(0.86,1)" font-size="16" fill="#e2275c" font-weight="400" text-anchor="middle" letter-spacing="0" stroke="#e2275c" stroke-width="0.3">19</text>
<text x="612.92" y="739.30" font-size="17.5" fill="#2b5d7c" font-weight="400" text-anchor="middle" letter-spacing="-0.5">20</text>
<text transform="translate(645.15,741.00) scale(0.86,1)" font-size="16" fill="#505050" font-weight="400" text-anchor="middle" letter-spacing="0" stroke="#505050" stroke-width="0.3">21</text>
<text transform="translate(675.27,741.00) scale(0.86,1)" font-size="16" fill="#505050" font-weight="400" text-anchor="middle" letter-spacing="0" stroke="#505050" stroke-width="0.3">22</text>
<text transform="translate(705.40,741.00) scale(0.86,1)" font-size="16" fill="#505050" font-weight="400" text-anchor="middle" letter-spacing="0" stroke="#505050" stroke-width="0.3">23</text>
<text transform="translate(735.53,741.00) scale(0.86,1)" font-size="16" fill="#505050" font-weight="400" text-anchor="middle" letter-spacing="0" stroke="#505050" stroke-width="0.3">24</text>
<text transform="translate(765.66,741.00) scale(0.86,1)" font-size="16" fill="#e2275c" font-weight="400" text-anchor="middle" letter-spacing="0" stroke="#e2275c" stroke-width="0.3">25</text>
<text transform="translate(795.79,741.00) scale(0.86,1)" font-size="16" fill="#e2275c" font-weight="400" text-anchor="middle" letter-spacing="0" stroke="#e2275c" stroke-width="0.3">26</text>
<text transform="translate(825.92,741.00) scale(0.86,1)" font-size="16" fill="#505050" font-weight="400" text-anchor="middle" letter-spacing="0" stroke="#505050" stroke-width="0.3">27</text>
<text transform="translate(856.05,741.00) scale(0.86,1)" font-size="16" fill="#505050" font-weight="400" text-anchor="middle" letter-spacing="0" stroke="#505050" stroke-width="0.3">28</text>
<text transform="translate(886.18,741.00) scale(0.86,1)" font-size="16" fill="#505050" font-weight="400" text-anchor="middle" letter-spacing="0" stroke="#505050" stroke-width="0.3">01</text>
<text transform="translate(916.31,741.00) scale(0.86,1)" font-size="16" fill="#505050" font-weight="400" text-anchor="middle" letter-spacing="0" stroke="#505050" stroke-width="0.3">02</text>
<text transform="translate(946.44,741.00) scale(0.86,1)" font-size="16" fill="#505050" font-weight="400" text-anchor="middle" letter-spacing="0" stroke="#505050" stroke-width="0.3">03</text>
<text x="28.50" y="766.00" font-size="16.5" fill="#666" font-weight="400" text-anchor="start" letter-spacing="0" stroke="#666" stroke-width="0.2">Февраль</text>
<text x="877.50" y="766.00" font-size="16.5" fill="#606060" font-weight="400" text-anchor="start" letter-spacing="0" stroke="#606060" stroke-width="0.2">Март</text>
<text x="16.80" y="789.30" font-size="16" fill="#303030" font-weight="700" text-anchor="start" letter-spacing="0.35">Менструация</text>
<text x="262.00" y="789.30" font-size="16" fill="#303030" font-weight="700" text-anchor="start" letter-spacing="0.05">Тест на овуляцию</text>
<text x="468.40" y="789.30" font-size="16" fill="#303030" font-weight="700" text-anchor="start" letter-spacing="0.15">Тест на беременность</text>
<text x="714.40" y="789.30" font-size="16" fill="#303030" font-weight="700" text-anchor="start" letter-spacing="0.35">Цервикальная жидкость</text>
<text x="49.20" y="820.40" font-size="16" fill="#3b3b3b" font-weight="400" text-anchor="start" letter-spacing="0" stroke="#3b3b3b" stroke-width="0.35">Менструация</text>
<text x="49.20" y="852.80" font-size="16" fill="#3b3b3b" font-weight="400" text-anchor="start" letter-spacing="0" stroke="#3b3b3b" stroke-width="0.35">Небольшие выделения</text>
<text x="292.80" y="819.50" font-size="16" fill="#3b3b3b" font-weight="400" text-anchor="start" letter-spacing="0" stroke="#3b3b3b" stroke-width="0.35">Положительный</text>
<text x="292.80" y="853.10" font-size="16" fill="#3b3b3b" font-weight="400" text-anchor="start" letter-spacing="0" stroke="#3b3b3b" stroke-width="0.35">Отрицательный</text>
<text x="498.40" y="819.50" font-size="16" fill="#3b3b3b" font-weight="400" text-anchor="start" letter-spacing="0" stroke="#3b3b3b" stroke-width="0.35">Положительный</text>
<text x="498.40" y="853.00" font-size="16" fill="#3b3b3b" font-weight="400" text-anchor="start" letter-spacing="0" stroke="#3b3b3b" stroke-width="0.35">Отрицательный</text>
<text x="498.40" y="884.80" font-size="16" fill="#3b3b3b" font-weight="400" text-anchor="start" letter-spacing="0" stroke="#3b3b3b" stroke-width="0.35">Слабоположительный</text>
<text x="746.80" y="823.60" font-size="16" fill="#3b3b3b" font-weight="400" text-anchor="start" letter-spacing="0" stroke="#3b3b3b" stroke-width="0.35">Сухо</text>
<text x="746.80" y="856.00" font-size="16" fill="#3b3b3b" font-weight="400" text-anchor="start" letter-spacing="0" stroke="#3b3b3b" stroke-width="0.35">Клейкая</text>
<text x="746.80" y="888.40" font-size="16" fill="#3b3b3b" font-weight="400" text-anchor="start" letter-spacing="0" stroke="#3b3b3b" stroke-width="0.35">Кремообразная</text>
<text x="746.80" y="919.60" font-size="16" fill="#3b3b3b" font-weight="400" text-anchor="start" letter-spacing="0" stroke="#3b3b3b" stroke-width="0.35">Водянистая</text>
<text x="746.80" y="950.80" font-size="16" fill="#3b3b3b" font-weight="400" text-anchor="start" letter-spacing="0" stroke="#3b3b3b" stroke-width="0.35">Яичный белок</text>
<text x="48.50" y="952.00" font-size="16" fill="#3b3b3b" font-weight="400" text-anchor="start" letter-spacing="0" stroke="#3b3b3b" stroke-width="0.35">Половой акт</text>
<text x="207.00" y="952.00" font-size="16" fill="#3b3b3b" font-weight="400" text-anchor="start" letter-spacing="0" stroke="#3b3b3b" stroke-width="0.35">Прием лекарств</text>
<text x="396.40" y="952.00" font-size="16" fill="#3b3b3b" font-weight="400" text-anchor="start" letter-spacing="0" stroke="#3b3b3b" stroke-width="0.35">Лунный календарь</text>
</svg>
</body></html>
